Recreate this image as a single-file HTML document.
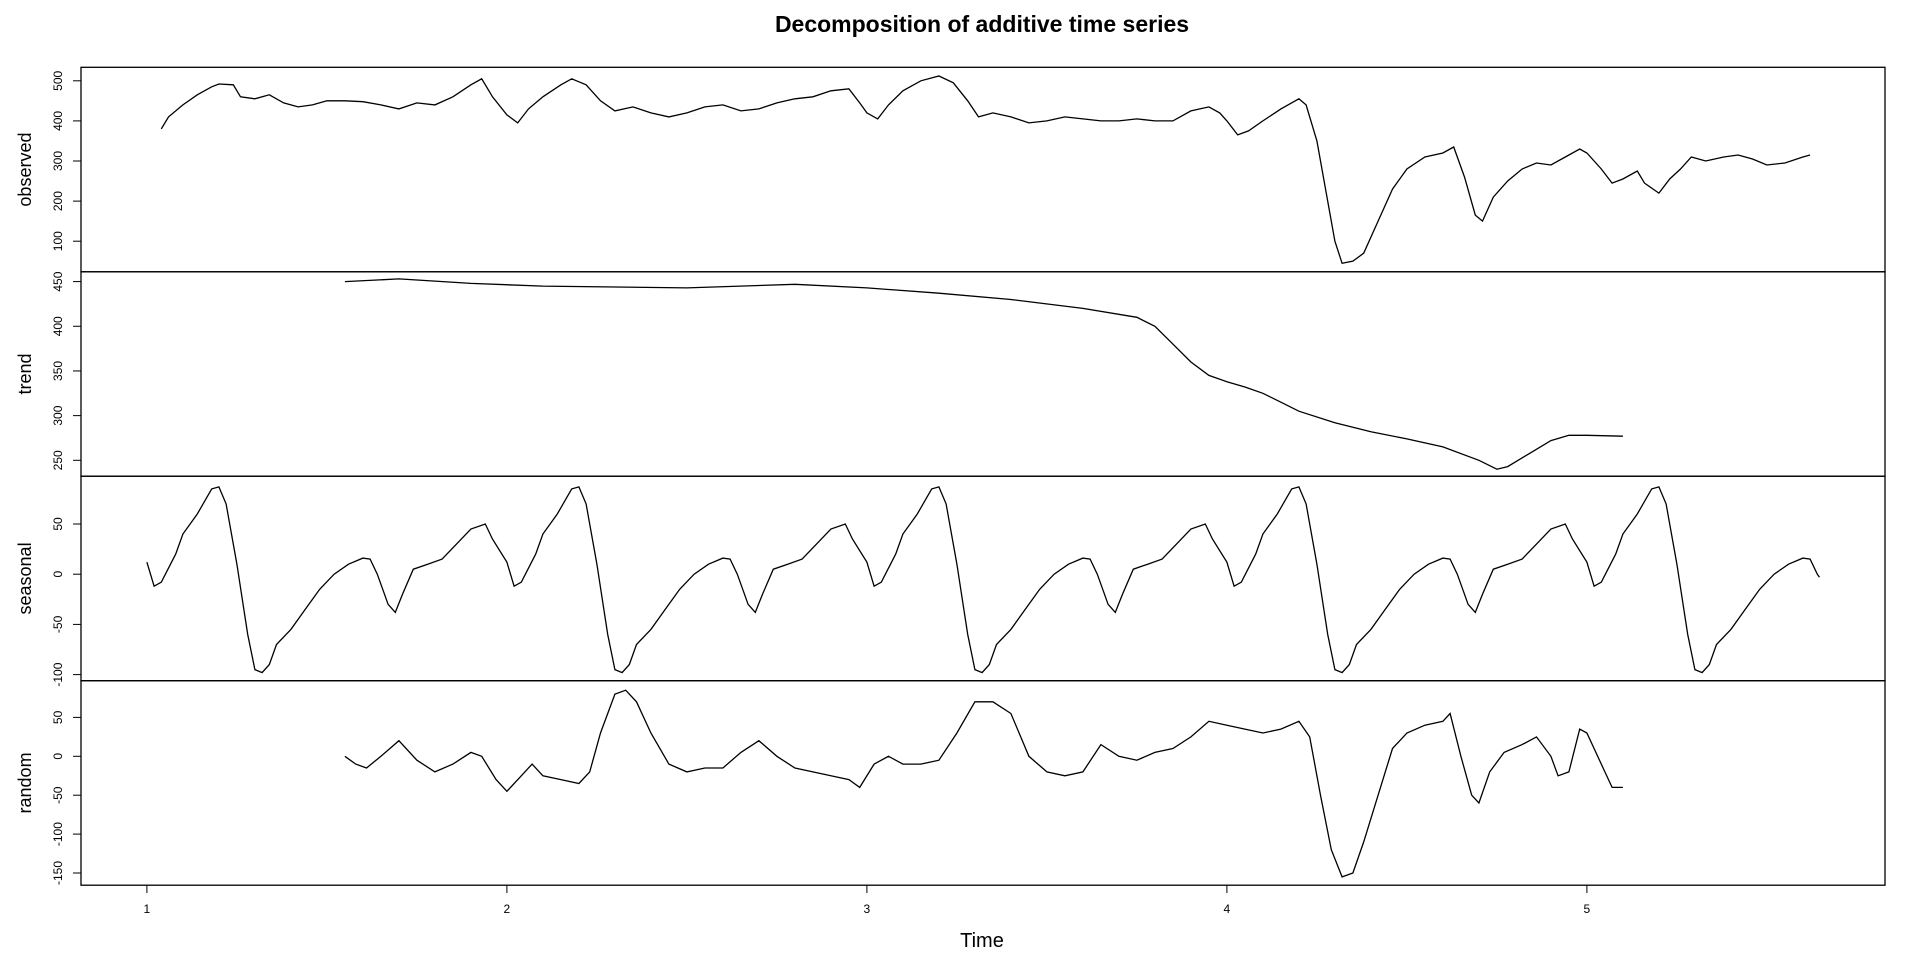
<!DOCTYPE html>
<html><head><meta charset="utf-8"><style>
body{margin:0;background:#fff;}
svg{display:block;font-family:"Liberation Sans",Arial,sans-serif;}
</style></head><body>
<svg id="chart" width="1920" height="966" viewBox="0 0 1920 966" xmlns="http://www.w3.org/2000/svg">
<text x="982" y="32" text-anchor="middle" font-size="23" font-weight="bold">Decomposition of additive time series</text>
<text x="982" y="947" text-anchor="middle" font-size="20">Time</text>
</svg>
<script>
const obsT=[1.04,1.06,1.1,1.14,1.18,1.2,1.24,1.26,1.3,1.34,1.38,1.42,1.46,1.5,1.55,1.6,1.65,1.7,1.75,1.8,1.85,1.9,1.93,1.96,2.0,2.03,2.06,2.1,2.15,2.18,2.22,2.26,2.3,2.35,2.4,2.45,2.5,2.55,2.6,2.65,2.7,2.75,2.8,2.85,2.9,2.95,2.98,3.0,3.03,3.06,3.1,3.15,3.2,3.24,3.28,3.31,3.35,3.4,3.45,3.5,3.55,3.6,3.65,3.7,3.75,3.8,3.85,3.9,3.95,3.98,4.0,4.03,4.06,4.1,4.15,4.2,4.22,4.25,4.28,4.3,4.32,4.35,4.38,4.42,4.46,4.5,4.55,4.6,4.63,4.66,4.69,4.71,4.74,4.78,4.82,4.86,4.9,4.94,4.98,5.0,5.04,5.07,5.1,5.14,5.16,5.2,5.23,5.26,5.29,5.33,5.38,5.42,5.46,5.5,5.55,5.6,5.62];
const obsV=[380,410,440,465,485,492,490,460,455,465,445,435,440,450,450,448,440,430,445,440,460,490,505,460,415,395,430,460,490,505,490,450,425,435,420,410,420,435,440,425,430,445,455,460,475,480,445,420,405,440,475,500,512,495,450,410,420,410,395,400,410,405,400,400,405,400,400,425,435,420,400,365,375,400,430,455,440,350,200,100,45,50,70,150,230,280,310,320,335,260,165,150,210,250,280,295,290,310,330,320,280,245,255,275,245,220,255,280,310,300,310,315,305,290,295,310,315];
const trendT=[1.55,1.7,1.9,2.1,2.5,2.8,3.0,3.2,3.4,3.6,3.75,3.8,3.85,3.9,3.95,4.0,4.05,4.1,4.15,4.2,4.3,4.4,4.5,4.6,4.7,4.75,4.78,4.85,4.9,4.95,5.0,5.1];
const trendV=[450,453,448,445,443,447,443,437,430,420,410,400,380,360,345,338,332,325,315,305,292,282,274,265,250,240,243,260,272,278,278,277];
const seasPhase=[0,0.02,0.04,0.08,0.1,0.14,0.18,0.2,0.22,0.25,0.28,0.3,0.32,0.34,0.36,0.4,0.44,0.48,0.52,0.56,0.6,0.62,0.64,0.67,0.69,0.71,0.74,0.78,0.82,0.86,0.9,0.94,0.96];
const seasV=[12,-12,-8,20,40,60,85,87,70,10,-60,-95,-98,-90,-70,-55,-35,-15,0,10,16,15,0,-30,-38,-20,5,10,15,30,45,50,35];
const randT=[1.55,1.58,1.61,1.65,1.7,1.75,1.8,1.85,1.9,1.93,1.97,2.0,2.04,2.07,2.1,2.15,2.2,2.23,2.26,2.3,2.33,2.36,2.4,2.45,2.5,2.55,2.6,2.65,2.7,2.75,2.8,2.85,2.9,2.95,2.98,3.02,3.06,3.1,3.15,3.2,3.25,3.3,3.35,3.4,3.45,3.5,3.55,3.6,3.65,3.7,3.75,3.8,3.85,3.9,3.95,4.0,4.05,4.1,4.15,4.2,4.23,4.26,4.29,4.32,4.35,4.38,4.42,4.46,4.5,4.55,4.6,4.62,4.65,4.68,4.7,4.73,4.77,4.82,4.86,4.9,4.92,4.95,4.98,5.0,5.04,5.07,5.1];
const randV=[0,-10,-15,0,20,-5,-20,-10,5,0,-30,-45,-25,-10,-25,-30,-35,-20,30,80,85,70,30,-10,-20,-15,-15,5,20,0,-15,-20,-25,-30,-40,-10,0,-10,-10,-5,30,70,70,55,0,-20,-25,-20,15,0,-5,5,10,25,45,40,35,30,35,45,25,-50,-120,-155,-150,-110,-50,10,30,40,45,55,0,-50,-60,-20,5,15,25,0,-25,-20,35,30,-10,-40,-40];
const xTicks=[1,2,3,4,5];
const obsTicks=[100,200,300,400,500];
const trendTicks=[250,300,350,400,450];
const seasTicks=[-100,-50,0,50];
const randTicks=[-150,-100,-50,0,50];
const seasEnd=5.646;

// seasonal series: tile one period, stop at series end
const seasT=[],seasS=[];
for(let k=0;k<5;k++){for(let i=0;i<seasPhase.length;i++){const t=1+k+seasPhase[i];if(t<=seasEnd){seasT.push(t);seasS.push(seasV[i]);}}}
seasT.push(seasEnd);seasS.push(-3);

const NS="http://www.w3.org/2000/svg";
const svg=document.getElementById('chart');
const L=81,R=1885;
const X=t=>146.9+(t-1)*360;
function mk(tag,attrs){const e=document.createElementNS(NS,tag);for(const k in attrs)e.setAttribute(k,attrs[k]);svg.appendChild(e);return e;}
const panels=[
 {name:'observed',top:67.3,bot:271.8,T:obsT,V:obsV,ticks:obsTicks,v0:500,y0:80.8,v1:100,y1:241.2},
 {name:'trend',top:271.8,bot:476.2,T:trendT,V:trendV,ticks:trendTicks,v0:450,y0:281.6,v1:250,y1:460.3},
 {name:'seasonal',top:476.2,bot:680.7,T:seasT,V:seasS,ticks:seasTicks,v0:50,y0:524,v1:-100,y1:674.6},
 {name:'random',top:680.7,bot:885.2,T:randT,V:randV,ticks:randTicks,v0:50,y0:717.4,v1:-150,y1:873}
];
panels.forEach(p=>{
 const Y=v=>p.y0+(v-p.v0)*(p.y1-p.y0)/(p.v1-p.v0);
 const r=mk('rect',{x:L,y:p.top,width:R-L,height:p.bot-p.top,fill:'none',stroke:'#000','stroke-width':1.3});
 
 
 let d='';p.T.forEach((t,i)=>{d+=(i?'L':'M')+X(t).toFixed(1)+','+Y(p.V[i]).toFixed(1);});
 const path=mk('path',{d:d,fill:'none',stroke:'#000','stroke-width':1.3});
 
 
 p.ticks.forEach(v=>{
  const y=Y(v);
  const tk=mk('line',{x1:L,x2:L-8,y1:y,y2:y,stroke:'#000','stroke-width':1});
  
  
  const tx=mk('text',{x:0,y:0,transform:'translate(62,'+y+') rotate(-90)','text-anchor':'middle','font-size':12});
  
  
  tx.textContent=v;
 });
 const lab=mk('text',{x:0,y:0,transform:'translate(31,'+((p.top+p.bot)/2)+') rotate(-90)','text-anchor':'middle','font-size':18});
 
 
 lab.textContent=p.name;
});
xTicks.forEach(t=>{
 const x=X(t);
 const tk=mk('line',{x1:x,x2:x,y1:885.2,y2:893,stroke:'#000','stroke-width':1});
 
 
 const tx=mk('text',{x:x,y:913,'text-anchor':'middle','font-size':12});
 
 
 tx.textContent=t;
});
</script>
</body></html>
